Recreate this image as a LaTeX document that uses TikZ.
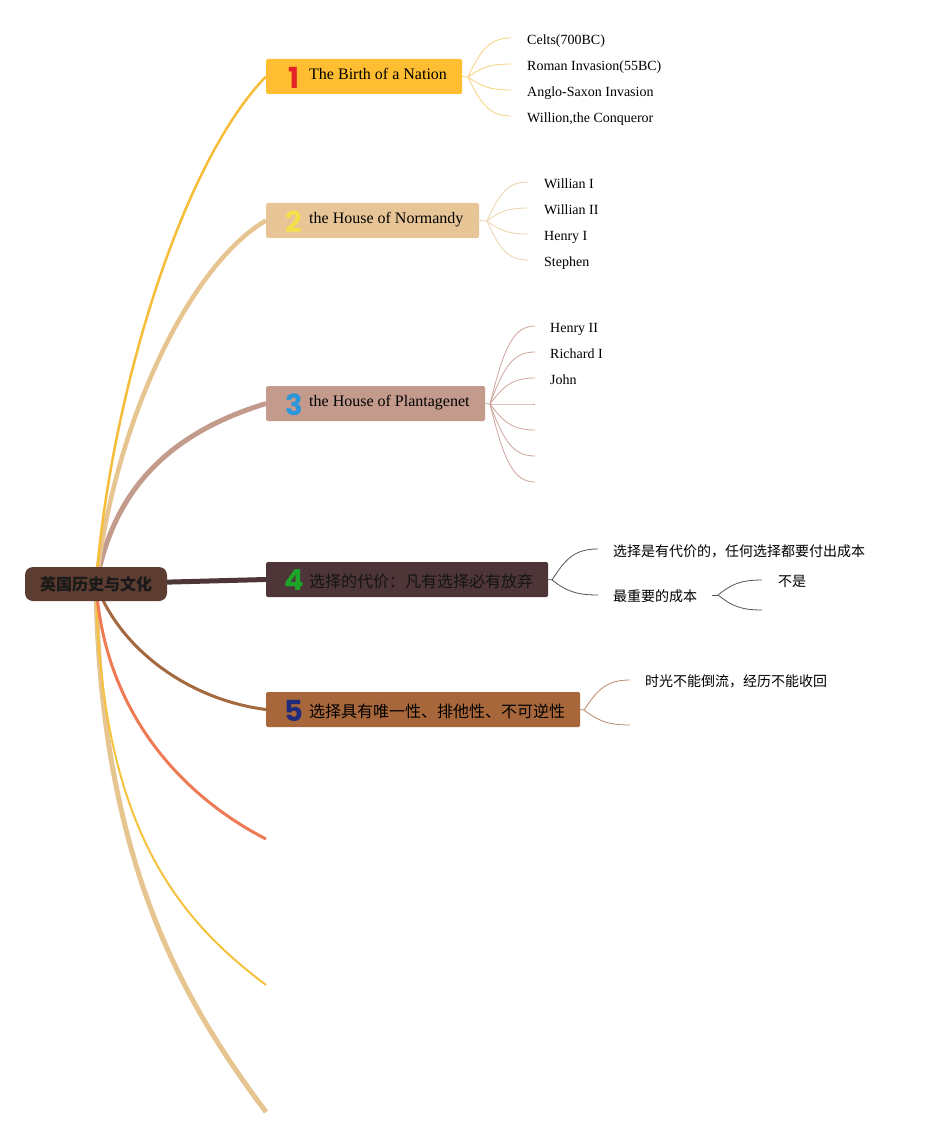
\documentclass[tikz,border=0pt]{standalone}
\usepackage{fontspec}
\setmainfont{Liberation Serif}
\newfontfamily\cjk{Noto Sans CJK SC}
\newfontfamily\numf{Poppins}
\usetikzlibrary{backgrounds,calc}
\definecolor{fr}{HTML}{5D3D31}
\definecolor{f1}{HTML}{FFBE31}\definecolor{d1}{HTML}{E42429}
\definecolor{f2}{HTML}{E8C597}\definecolor{d2}{HTML}{F4E04D}
\definecolor{f3}{HTML}{C49A8C}\definecolor{d3}{HTML}{2A97DA}
\definecolor{f4}{HTML}{4D3538}\definecolor{d4}{HTML}{1DA52A}
\definecolor{f5}{HTML}{A8673B}\definecolor{d5}{HTML}{1F2B7B}
\definecolor{l1}{HTML}{F5BD38}\definecolor{l2}{HTML}{E6C591}
\definecolor{l3}{HTML}{C39B8D}\definecolor{l4}{HTML}{4D3538}
\definecolor{l5}{HTML}{A3693F}\definecolor{l6}{HTML}{EF7B56}
\definecolor{l7}{HTML}{F5C23E}\definecolor{l8}{HTML}{E6C591}
\definecolor{s1}{HTML}{F6D27B}\definecolor{s2}{HTML}{EDD2AE}
\definecolor{s3}{HTML}{CFA69B}\definecolor{s4}{HTML}{555555}
\definecolor{s5}{HTML}{B88A6A}
\begin{document}
\begin{tikzpicture}[x=1pt,y=-1pt,
  box/.style={rectangle, rounded corners=1.5pt, inner sep=0pt, minimum height=35pt, anchor=west},
  num/.style={font=\numf\bfseries\fontsize{29}{30}\selectfont, inner sep=0pt},
  ttl/.style={font=\fontsize{16}{19}\selectfont, inner sep=0pt, anchor=base west, text=black},
  cttl/.style={font=\cjk\fontsize{16}{19}\selectfont, inner sep=0pt, anchor=base west, text=black},
  lab/.style={font=\fontsize{14}{17}\selectfont, inner sep=0pt, anchor=base west, text=black},
  clab/.style={font=\cjk\fontsize{14}{17}\selectfont, inner sep=0pt, anchor=base west, text=black},
  fanline/.style={to path={let \p1=(\tikztostart), \p2=(\tikztotarget) in .. controls ({\x1+0.3*(\x2-\x1)},{\y1+0.7*(\y2-\y1)}) and ({\x1+0.5*(\x2-\x1)},{\y2}) .. (\tikztotarget)}},
  sub/.style={line width=0.8pt},
]
\useasboundingbox (0,0) rectangle (925,1139);
% root
\node[fill=fr, rounded corners=8pt, minimum width=142pt, minimum height=34pt, inner sep=0pt] (root) at (96,584) {};
\node[font=\cjk\bfseries\fontsize{16}{19}\selectfont, anchor=base, inner sep=0pt, text=black!90] (rt) at (96,590) {英国历史与文化};
% main topics
\node[box, fill=f1, minimum width=196pt] (n1) at (266,76.5) {};
\node[num, text=d1] (k1) at (294,77.5) {1};
\node[ttl] (t1) at (309,79.3) {The Birth of a Nation};
\node[box, fill=f2, minimum width=213pt] (n2) at (266,220.5) {};
\node[num, text=d2] (k2) at (294,221.5) {2};
\node[ttl] (t2) at (309,223.3) {the House of Normandy};
\node[box, fill=f3, minimum width=219pt] (n3) at (266,403.5) {};
\node[num, text=d3] (k3) at (294,404.5) {3};
\node[ttl] (t3) at (309,406.3) {the House of Plantagenet};
\node[box, fill=f4, minimum width=282pt] (n4) at (266,579.5) {};
\node[num, text=d4] (k4) at (294,580.5) {4};
\node[cttl, text=black!92] (t4) at (309,587) {选择的代价：凡有选择必有放弃};
\node[box, fill=f5, minimum width=314pt] (n5) at (266,709.5) {};
\node[num, text=d5] (k5) at (294,710.5) {5};
\node[cttl] (t5) at (309,717) {选择具有唯一性、排他性、不可逆性};
% empty topic ends
\coordinate (e6) at (266,839);
\coordinate (e7) at (266,985);
\coordinate (e8) at (266,1112);
% labels
\node[lab] (l1a) at (527,44.5) {Celts(700BC)};
\node[lab] (l1b) at (527,70.5) {Roman Invasion(55BC)};
\node[lab] (l1c) at (527,96.5) {Anglo-Saxon Invasion};
\node[lab] (l1d) at (527,122.5) {Willion,the Conqueror};
\node[lab] (l2a) at (544,188.5) {Willian I};
\node[lab] (l2b) at (544,214.5) {Willian II};
\node[lab] (l2c) at (544,240.5) {Henry I};
\node[lab] (l2d) at (544,266.5) {Stephen};
\node[lab] (l3a) at (550,332.5) {Henry II};
\node[lab] (l3b) at (550,358.5) {Richard I};
\node[lab] (l3c) at (550,384.5) {John};
\node[clab] (l4a) at (613,556.3) {选择是有代价的，任何选择都要付出成本};
\node[clab] (l4b) at (613,601.3) {最重要的成本};
\node[clab] (l6a) at (778,586.3) {不是};
\node[clab] (l5a) at (645,686.3) {时光不能倒流，经历不能收回};
% fan origins and ends
\coordinate (o1) at (468,77);
\coordinate (o2) at (487,221);
\coordinate (o3) at (490,404);
\coordinate (o4) at (552,580);
\coordinate (o5) at (584,710);
\coordinate (o6s) at (712,595);
\coordinate (o6) at (718,595);
\begin{scope}[on background layer]
\fill[white] (0,0) rectangle (925,1139);
% main connectors
\draw[l8, line width=5pt] (root.center) .. controls (100,870) and (190,1010) .. (e8);
\draw[l7, line width=2pt] (root.center) .. controls (100,830) and (180,920) .. (e7);
\draw[l6, line width=3pt] (root.center) .. controls (105,720) and (190,800) .. (e6);
\draw[l5, line width=3pt] (root.center) .. controls (120,650) and (190,700) .. (n5.west);
\draw[l4, line width=5pt] (root.center) -- (n4.west);
\draw[l3, line width=5pt] (root.center) .. controls (115,480) and (180,430) .. (n3.west);
\draw[l2, line width=4.5pt] (root.center) .. controls (115,420) and (190,265) .. (n2.west);
\draw[l1, line width=2.5pt] (root.center) .. controls (110,400) and (180,165) .. (n1.west);
% sub fans
\draw[sub, s1] (n1.east) -- (o1);
\foreach \yy in {38,64,90,116} \draw[sub, s1] (o1) to[fanline] (511,\yy);
\draw[sub, s2] (n2.east) -- (o2);
\foreach \yy in {182,208,234,260} \draw[sub, s2] (o2) to[fanline] (528,\yy);
\draw[sub, s3] (n3.east) -- (o3);
\foreach \yy in {326,352,378,404,430,456,482} \draw[sub, s3] (o3) to[fanline] (535,\yy);
\draw[sub, s4] (n4.east) -- (o4);
\foreach \yy in {549,595} \draw[sub, s4] (o4) to[fanline] (598,\yy);
\draw[sub, s4] (o6s) -- (o6);
\foreach \yy in {580,610} \draw[sub, s4] (o6) to[fanline] (762,\yy);
\draw[sub, s5] (n5.east) -- (o5);
\foreach \yy in {680,725} \draw[sub, s5] (o5) to[fanline] (630,\yy);
\end{scope}
\end{tikzpicture}
\end{document}
